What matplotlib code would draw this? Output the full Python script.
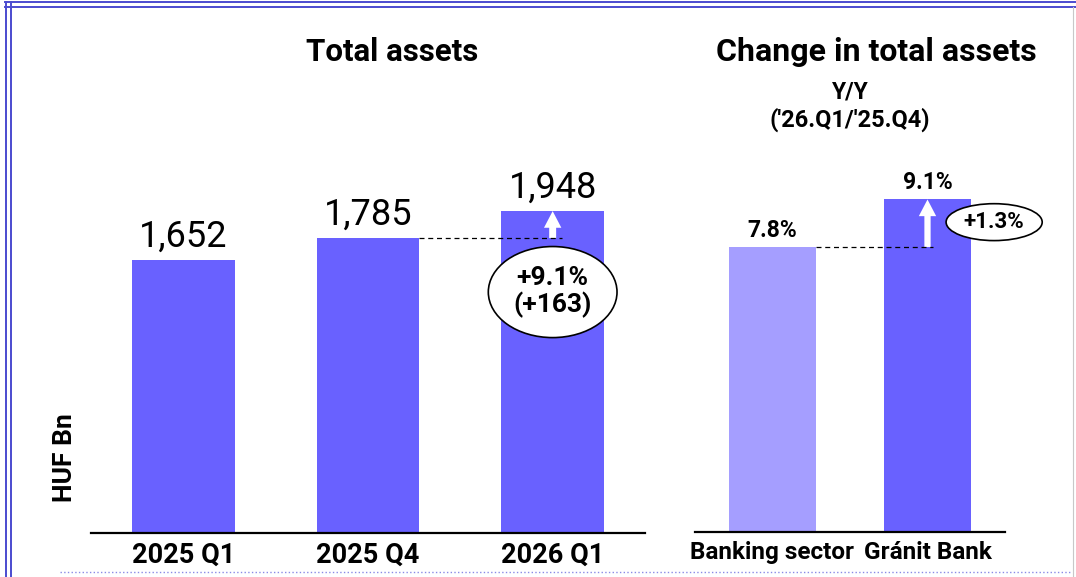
import matplotlib
matplotlib.use('Agg')
import matplotlib.pyplot as plt
from matplotlib.patches import Ellipse, FancyArrowPatch
from matplotlib.lines import Line2D

plt.rcParams['font.family'] = ['Roboto', 'DejaVu Sans']

# Datos
periods = ['2025 Q1', '2025 Q4', '2026 Q1']
assets = [1652, 1785, 1948]
peers = ['Banking sector', 'Gránit Bank']
growth = [7.8, 9.1]
asset_change = '+9.1%\n(+163)'
growth_gap = '+1.3%'

BAR = '#6961FF'
BAR_LIGHT = '#A59EFF'
W, H = 1076, 577


def fx(px):
    return px / W


def fy(py):
    return 1 - py / H


fig = plt.figure(figsize=(W / 100, H / 100), dpi=100)

# marco de la diapositiva
for yy in (1.5, 7):
    fig.add_artist(Line2D([fx(5), 1], [fy(yy), fy(yy)], color='#4B4BCF', lw=1.4))
for xx in (5.5, 11):
    fig.add_artist(Line2D([fx(xx), fx(xx)], [0, fy(1.5)], color='#4B4BCF', lw=1.4))
fig.add_artist(Line2D([fx(1073), fx(1073)], [0, fy(7)], color='#C8C8C8', lw=0.8))
fig.add_artist(Line2D([fx(60), fx(1070)], [fy(572), fy(572)], color='#8A8AE6', lw=1, ls=':'))

# grafico izquierdo: total assets
ax1 = fig.add_axes([fx(91), fy(533), fx(645) - fx(91), fy(30) - fy(533)])
x1 = range(len(periods))
ax1.bar(x1, assets, width=0.557, color=BAR)
ax1.set_xlim(-0.5, 2.5)
ax1.set_ylim(0, 503 / 0.16525)
for i, v in enumerate(assets):
    ax1.annotate(f'{v:,}', (i, v), xytext=(0, 9.5), textcoords='offset points',
                 ha='center', va='baseline', fontsize=26)
ax1.plot([1 + 0.2785, 2.05], [assets[1], assets[1]], color='black', lw=0.9, ls=(0, (4, 3)))
ax1.add_patch(FancyArrowPatch((2, assets[1]), (2, assets[2]),
                              arrowstyle='simple,head_length=12,head_width=12.5,tail_width=5',
                              mutation_scale=1, shrinkA=0, shrinkB=0, color='white', lw=0))
ax1.add_patch(Ellipse((2, 1458), 0.697, 551, facecolor='white', edgecolor='black',
                      lw=1.2, clip_on=False))
ax1.text(2, 1458, asset_change, ha='center', va='center', fontsize=19,
         fontweight='bold', linespacing=1.05)

# grafico derecho: change in total assets
ax2 = fig.add_axes([fx(695), fy(532), fx(1005) - fx(695), fy(30) - fy(532)])
x2 = range(len(peers))
ax2.bar(x2, growth, width=0.56, color=[BAR_LIGHT, BAR])
ax2.set_xlim(-0.5, 1.5)
ax2.set_ylim(0, 502 / 36.54)
for i, v in enumerate(growth):
    ax2.annotate(f'{v:.1f}%', (i, v), xytext=(0, 7.5), textcoords='offset points',
                 ha='center', va='baseline', fontsize=16.5, fontweight='bold')
ax2.plot([0.28, 1.035], [growth[0], growth[0]], color='black', lw=0.9, ls=(0, (4, 3)))
ax2.add_patch(FancyArrowPatch((1, growth[0]), (1, growth[1]),
                              arrowstyle='simple,head_length=12,head_width=12.5,tail_width=4.5',
                              mutation_scale=1, shrinkA=0, shrinkB=0, color='white', lw=0))
ax2.add_patch(Ellipse((1.43, 8.48), 0.62, 1.01, facecolor='white', edgecolor='black',
                      lw=1.2, clip_on=False))
ax2.text(1.43, 8.48, growth_gap, ha='center', va='center', fontsize=16,
         fontweight='bold', clip_on=False)

for ax, labels, fs in ((ax1, periods, 19.5), (ax2, peers, 17.5)):
    for s in ('top', 'left', 'right'):
        ax.spines[s].set_visible(False)
    ax.spines['bottom'].set_linewidth(1.6)
    ax.set_yticks([])
    ax.set_xticks(range(len(labels)))
    ax.set_xticklabels(labels, fontsize=fs, fontweight='bold')
    ax.tick_params(axis='x', length=0, pad=6.5)
    ax.patch.set_alpha(0)

# titulos
fig.text(fx(392), fy(61), 'Total assets', ha='center', va='baseline', fontsize=22.5, fontweight='bold')
fig.text(fx(876), fy(61), 'Change in total assets', ha='center', va='baseline', fontsize=23, fontweight='bold')
fig.text(fx(850), fy(99), 'Y/Y', ha='center', va='baseline', fontsize=16.5, fontweight='bold')
fig.text(fx(850), fy(127), "('26.Q1/'25.Q4)", ha='center', va='baseline', fontsize=17, fontweight='bold')
fig.text(fx(65), fy(458), 'HUF Bn', ha='center', va='center', rotation=90, fontsize=19, fontweight='bold')

plt.savefig('out.png', dpi=100)
